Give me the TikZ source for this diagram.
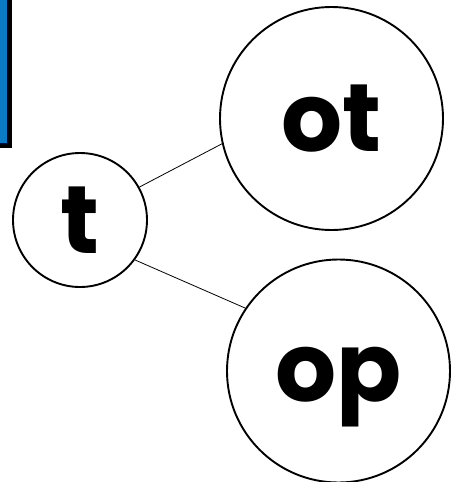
\documentclass[tikz,border=0pt]{standalone}
\usepackage{fontspec}
\setmainfont{Poppins}
\definecolor{tabblue}{HTML}{0A7BC4}
\begin{document}
\begin{tikzpicture}[x=1pt,y=-1pt,
  bubble/.style={draw,circle,line width=1.9pt,inner sep=0pt,
    font=\fontsize{96}{96}\bfseries\selectfont}]
\useasboundingbox (0,0) rectangle (456,482);
% blue tab at the top left
\draw[line width=5pt,fill=tabblue] (-10,-10) rectangle (9,145);
\node[bubble,minimum size=134pt] (t) at (80,220) {t};
\node[bubble,minimum size=223pt] (ot) at (331.5,118.5) {ot};
\node[bubble,minimum size=223pt,text height=60pt,text depth=0pt] (op) at (338.5,371) {op};
\draw[line width=0.8pt] (t.29) -- (ot.193);
\draw[line width=0.8pt] (t.-36) -- (op.146);
\end{tikzpicture}
\end{document}
